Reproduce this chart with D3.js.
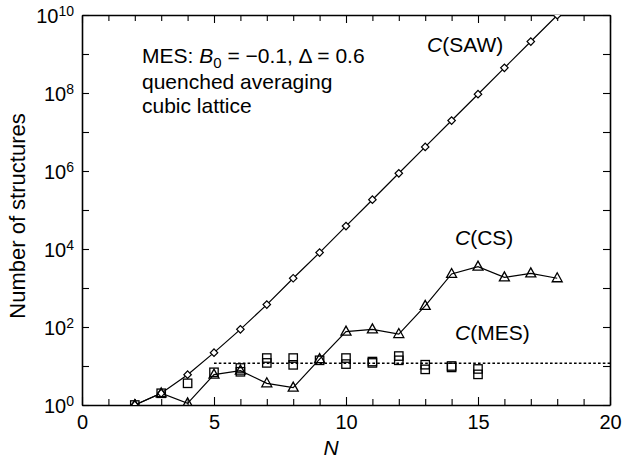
<!DOCTYPE html>
<html><head><meta charset="utf-8">
<script src="https://cdn.jsdelivr.net/npm/d3@7"></script>
<style>
html,body{margin:0;padding:0;background:#fff;}
svg{display:block;font-family:"Liberation Sans",Arial,Helvetica,sans-serif;}
</style></head>
<body><svg id="c" width="623" height="458"></svg>
<script>
// ---- data ----
const nSAW = [2,3,4,5,6,7,8,9,10,11,12,13,14,15,16,17,18];
const cSAW = [1,2,6,22,87,375,1780,8083,38623,183539,873628,4142557,19666136,93102327,441148876,2085872416,9869380252];
const nCS = [2,3,4,5,6,7,8,9,10,11,12,13,14,15,16,17,18];
const cCS = [1,2,1.1,6,7.6,3.6,2.8,15,76,87,66,347,2290,3530,1870,2380,1780];
const nMES = [2,3,4,5,6,6,7,7,8,8,9,10,10,11,11,12,12,13,13,14,14,15,15];
const cMES = [1,2,3.6,6.9,8.9,7.1,16,12,16,10.7,14,16,11.2,13,12,18,14,10.8,8.2,10,9.2,8.4,6.1];
const mesAvgRange = [5,20];
const mesAvg = 11.7;
const xTicks = [0,5,10,15,20];
const yExps = [0,2,4,6,8,10];

// ---- layout ----
const L=82, R=610, T=15, B=405;
const svg = d3.select("#c");
const x = d3.scaleLinear().domain([0,20]).range([L,R]);
const y = d3.scaleLog().domain([1,1e10]).range([B,T]);
const FS = 20;

svg.append("defs").append("clipPath").attr("id","clip")
  .append("rect").attr("x",L).attr("y",T).attr("width",R-L).attr("height",B-T);

const allX = d3.range(0,21);
const allY = d3.range(0,11).map(e=>Math.pow(10,e));

// bottom axis
const gx = svg.append("g").attr("transform",`translate(0,${B})`)
  .call(d3.axisBottom(x).tickValues(allX).tickSizeInner(-6).tickSizeOuter(0).tickPadding(10)
    .tickFormat(d=> xTicks.includes(d)? String(d) : ""));
gx.selectAll(".tick line").attr("y2", d=> d%5===0 ? -8 : -6);
// top axis
const gt = svg.append("g").attr("transform",`translate(0,${T})`)
  .call(d3.axisTop(x).tickValues(allX).tickSizeInner(-6).tickSizeOuter(0).tickFormat(""));
gt.selectAll(".tick line").attr("y2", d=> d%5===0 ? 8 : 6);
// left axis
const gy = svg.append("g").attr("transform",`translate(${L},0)`)
  .call(d3.axisLeft(y).tickValues(allY).tickSizeInner(-7).tickSizeOuter(0).tickPadding(8)
    .tickFormat(()=>""));
gy.selectAll(".tick").each(function(d){
  const e = Math.round(Math.log10(d));
  if(!yExps.includes(e)) return;
  const t = d3.select(this).select("text").attr("dy","0.35em").text(null);
  t.append("tspan").text("10");
  t.append("tspan").attr("dy","-0.5em").attr("font-size",14).text(String(e));
});
// right axis
svg.append("g").attr("transform",`translate(${R},0)`)
  .call(d3.axisRight(y).tickValues(allY).tickSizeInner(-7).tickSizeOuter(0).tickFormat(""));

svg.selectAll(".domain").attr("stroke","#000").attr("stroke-width",1.6);
svg.selectAll(".tick line").attr("stroke","#000").attr("stroke-width",1.1);
svg.selectAll(".tick text").attr("font-size",FS).attr("fill","#000").attr("font-family",null);

// axis titles
svg.append("text").attr("x",331).attr("y",455).attr("text-anchor","middle")
  .attr("font-size",21).attr("font-style","italic").text("N");
svg.append("text").attr("transform",`translate(25,${(T+B)/2+6}) rotate(-90)`)
  .attr("text-anchor","middle").attr("font-size",22).text("Number of structures");

// plot
const p = svg.append("g").attr("clip-path","url(#clip)");
const line = d3.line().x(d=>x(d[0])).y(d=>y(d[1]));
// dotted average
p.append("path").attr("d", line(mesAvgRange.map(n=>[n,mesAvg])))
  .attr("fill","none").attr("stroke","#000").attr("stroke-width",1.5).attr("stroke-dasharray","2.6,2.2");

const saw = nSAW.map((n,i)=>[n,cSAW[i]]);
const cs = nCS.map((n,i)=>[n,cCS[i]]);
const mes = nMES.map((n,i)=>[n,cMES[i]]);

p.append("path").attr("d",line(saw)).attr("fill","none").attr("stroke","#000").attr("stroke-width",1.2);
p.append("path").attr("d",line(cs)).attr("fill","none").attr("stroke","#000").attr("stroke-width",1.2);

const diamond = d3.symbol().type(d3.symbolSquare).size(28);
p.selectAll(".dia").data(saw).join("path")
  .attr("d",diamond).attr("transform",d=>`translate(${x(d[0])},${y(d[1])}) rotate(45)`)
  .attr("fill","#fff").attr("stroke","#000").attr("stroke-width",1.2);

const tri = d=>{ const cx=x(d[0]), cy=y(d[1]); return `M${cx},${cy-5.5}L${cx+5},${cy+3.5}L${cx-5},${cy+3.5}Z`; };
p.selectAll(".tri").data(cs).join("path").attr("d",tri)
  .attr("fill","none").attr("stroke","#000").attr("stroke-width",1.3);

p.selectAll(".sq").data(mes).join("rect")
  .attr("x",d=>x(d[0])-4.2).attr("y",d=>y(d[1])-4.2).attr("width",8.4).attr("height",8.4)
  .attr("fill","none").attr("stroke","#000").attr("stroke-width",1.3);

// labels
function lab(xp,yp,main){
  const t = svg.append("text").attr("x",xp).attr("y",yp).attr("font-size",21);
  t.append("tspan").attr("font-style","italic").text("C");
  t.append("tspan").text(main);
}
lab(427,52,"(SAW)");
lab(455,245,"(CS)");
lab(455,340,"(MES)");

// inset text
const t1 = svg.append("text").attr("x",142).attr("y",63).attr("font-size",21);
t1.append("tspan").text("MES: ");
t1.append("tspan").attr("font-style","italic").text("B");
t1.append("tspan").attr("dy",5).attr("font-size",15).text("0");
t1.append("tspan").attr("dy",-5).text(" = \u22120.1, \u0394 = 0.6");
svg.append("text").attr("x",142).attr("y",89).attr("font-size",21).text("quenched averaging");
svg.append("text").attr("x",142).attr("y",113).attr("font-size",21).text("cubic lattice");
</script></body></html>
